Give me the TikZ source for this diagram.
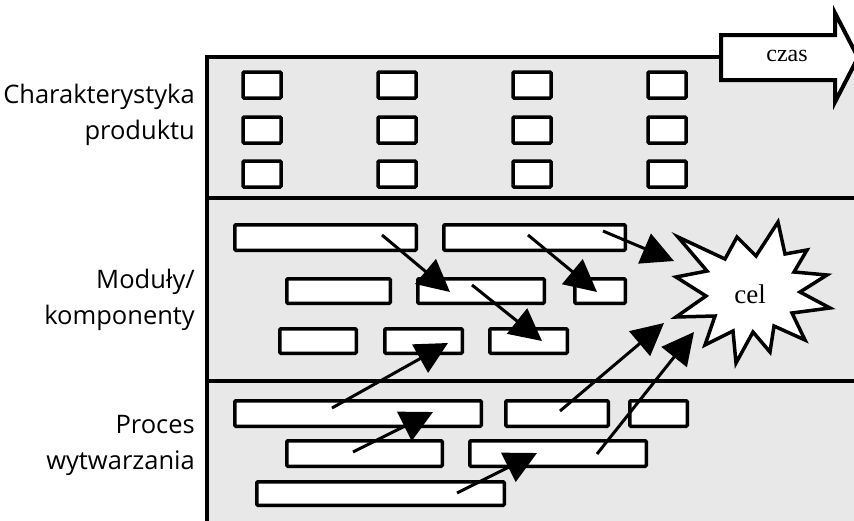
\documentclass[tikz,border=0pt]{standalone}
\usepackage{fontspec}
\setmainfont{Open Sans}
\newfontfamily\seriffam{Liberation Serif}
\usetikzlibrary{arrows.meta}
\definecolor{bandgray}{RGB}{232,232,232}

\begin{document}
\begin{tikzpicture}[x=1pt,y=-1pt,
  frameline/.style={line width=4.5pt},
  smallbox/.style={draw, fill=white, line width=3.5pt, rounded corners=1pt,
    minimum width=38pt, minimum height=26pt, inner sep=0pt},
  bar/.style={draw, fill=white, line width=3.5pt, rounded corners=1pt,
    inner sep=0pt, minimum height=25.5pt},
  flow/.style={line width=3pt, -{Triangle[length=32pt,width=32pt]}},
  lbl/.style={font=\fontsize{25.5}{36}\selectfont, align=right, anchor=east, inner sep=0pt},
]
\useasboundingbox (0,0) rectangle (854,520);
\clip (0,0) rectangle (854,520);

% bands
\fill[bandgray] (207,57) rectangle (870,530);
\draw[frameline] (870,57) -- (207,57) -- (207,530);
\draw[frameline] (207,198) -- (870,198);
\draw[frameline] (207,381) -- (870,381);

% time arrow
\draw[line width=4pt, fill=white, line join=miter]
  (721,35) -- (835,35) -- (835,13) -- (858,57.5) -- (835,102) -- (835,80) -- (721,80) -- cycle;
\node[font=\seriffam\fontsize{24}{28}\selectfont] (czas) at (787,56) {czas};

% row labels
\node[lbl] (l1) at (195,115) {Charakterystyka\\produktu};
\node[lbl] (l2) at (195,300) {Moduły/\\komponenty};
\node[lbl] (l3) at (195,445) {Proces\\wytwarzania};

% product characteristics grid
\foreach \c/\x in {1/262,2/397,3/532,4/667}
  \foreach \r/\y in {1/85,2/130,3/174}
    \node[smallbox] (s\c\r) at (\x,\y) {};

% modules / components
\node[bar, minimum width=181.5pt] (A) at (325.5,237.5) {};
\node[bar, minimum width=181.5pt] (B) at (534.5,237.5) {};
\node[bar, minimum width=103.5pt, minimum height=24.5pt] (C) at (338.5,291) {};
\node[bar, minimum width=126.5pt, minimum height=24.5pt] (D) at (481,291) {};
\node[bar, minimum width=50.5pt, minimum height=24.5pt] (E) at (600,291) {};
\node[bar, minimum width=76.5pt, minimum height=24.5pt] (F) at (318,341) {};
\node[bar, minimum width=77.5pt, minimum height=24.5pt] (G) at (423.5,341) {};
\node[bar, minimum width=77.5pt, minimum height=24.5pt] (H) at (528.5,341) {};

% manufacturing process
\node[bar, minimum width=246.5pt] (P1) at (358,413.5) {};
\node[bar, minimum width=102.5pt] (P2) at (557,413.5) {};
\node[bar, minimum width=57.5pt] (P3) at (658.5,413.5) {};
\node[bar, minimum width=155.5pt] (P4) at (364.5,453.5) {};
\node[bar, minimum width=176.5pt] (P5) at (558,453.5) {};
\node[bar, minimum width=247.5pt, minimum height=23.5pt] (P6) at (380.5,493.5) {};

% goal star
\draw[line width=3.5pt, fill=white, line join=miter]
  (778,222) -- (785,254) -- (807,250) -- (794,272) -- (827,275) -- (800,292) --
  (830,308) -- (792,313) -- (805,340) -- (774,326) -- (770,352) -- (753,332) --
  (736,363) -- (733,331) -- (705,345) -- (715,316) -- (676,317) -- (706,296) --
  (676,277) -- (707,271) -- (678,237) -- (725,259) -- (737,237) -- (756,256) -- cycle;
\node[font=\seriffam\fontsize{27}{30}\selectfont] (cel) at (750,294) {cel};

% arrow end points
\coordinate (a1s) at (382,235); \coordinate (a1e) at (450,292);
\coordinate (a2s) at (472,285); \coordinate (a2e) at (542,341);
\coordinate (a3s) at (528,235); \coordinate (a3e) at (597,292);
\coordinate (a4s) at (603,231); \coordinate (a4e) at (674,261);
\coordinate (a5s) at (332,408); \coordinate (a5e) at (448,343);
\coordinate (a6s) at (560,411); \coordinate (a6e) at (664,323);
\coordinate (a7s) at (597,454); \coordinate (a7e) at (694,332);
\coordinate (a8s) at (353,452); \coordinate (a8e) at (433,412);
\coordinate (a9s) at (457,493); \coordinate (a9e) at (537,453);

% dependencies
\foreach \i in {1,...,9}
  \draw[flow] (a\i s) -- (a\i e);
\end{tikzpicture}
\end{document}
